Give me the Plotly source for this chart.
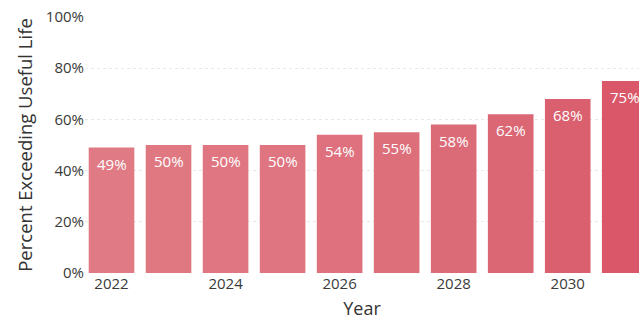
import plotly.graph_objects as go

# Years and share of assets past their useful life
years = [2022, 2023, 2024, 2025, 2026, 2027, 2028, 2029, 2030, 2031]
percent_exceeding = [49, 50, 50, 50, 54, 55, 58, 62, 68, 75]
bar_labels = ["49%", "50%", "50%", "50%", "54%", "55%", "58%", "62%", "68%", "75%"]

# light pink to deeper red across the years
bar_colors = [
    "#e07a84", "#e07882", "#df7681", "#df7580", "#de717d",
    "#dd6f7b", "#dc6b78", "#db6674", "#da606f", "#d95769",
]

font_family = "Open Sans, Segoe UI, sans-serif"

fig = go.Figure(
    go.Bar(
        x=years,
        y=percent_exceeding,
        marker=dict(color=bar_colors, line=dict(width=0)),
        cliponaxis=True,
        hoverinfo="x+y",
    )
)

# value labels near the top of each bar
for yr, val, lab in zip(years, percent_exceeding, bar_labels):
    fig.add_annotation(
        x=yr,
        y=val,
        text=lab,
        showarrow=False,
        yanchor="top",
        yshift=-4,
        font=dict(color="white", size=15, family=font_family),
    )

fig.update_layout(
    width=639,
    height=320,
    margin=dict(t=17, b=47, l=85, r=0),
    plot_bgcolor="white",
    paper_bgcolor="white",
    bargap=0.2,
    showlegend=False,
    font=dict(family=font_family, color="#3a3a3a"),
    xaxis=dict(
        title=dict(text="Year", font=dict(size=18, color="#333333"), standoff=13),
        range=[2021.535, 2031.25],
        tickmode="array",
        tickvals=[2022, 2024, 2026, 2028, 2030],
        tickfont=dict(size=15, color="#3a3a3a"),
        showgrid=False,
        zeroline=False,
        showline=False,
        ticks="",
        automargin=False,
    ),
    yaxis=dict(
        title=dict(
            text="Percent Exceeding Useful Life",
            font=dict(size=18.5, color="#333333"),
            standoff=8,
        ),
        range=[0, 100],
        tickvals=[0, 20, 40, 60, 80, 100],
        ticktext=["0%", "20%", "40%", "60%", "80%", "100%"],
        tickfont=dict(size=15, color="#3a3a3a"),
        ticklabeloverflow="allow",
        showgrid=True,
        gridcolor="#e8e8e8",
        griddash="dot",
        zeroline=False,
        ticks="",
        automargin=False,
    ),
)

# drop the default body margin so the figure fills the window exactly
fig.write_html(
    "out.html",
    config={"displayModeBar": False},
    post_script="document.body.style.margin='0';document.body.style.overflow='hidden';",
)
